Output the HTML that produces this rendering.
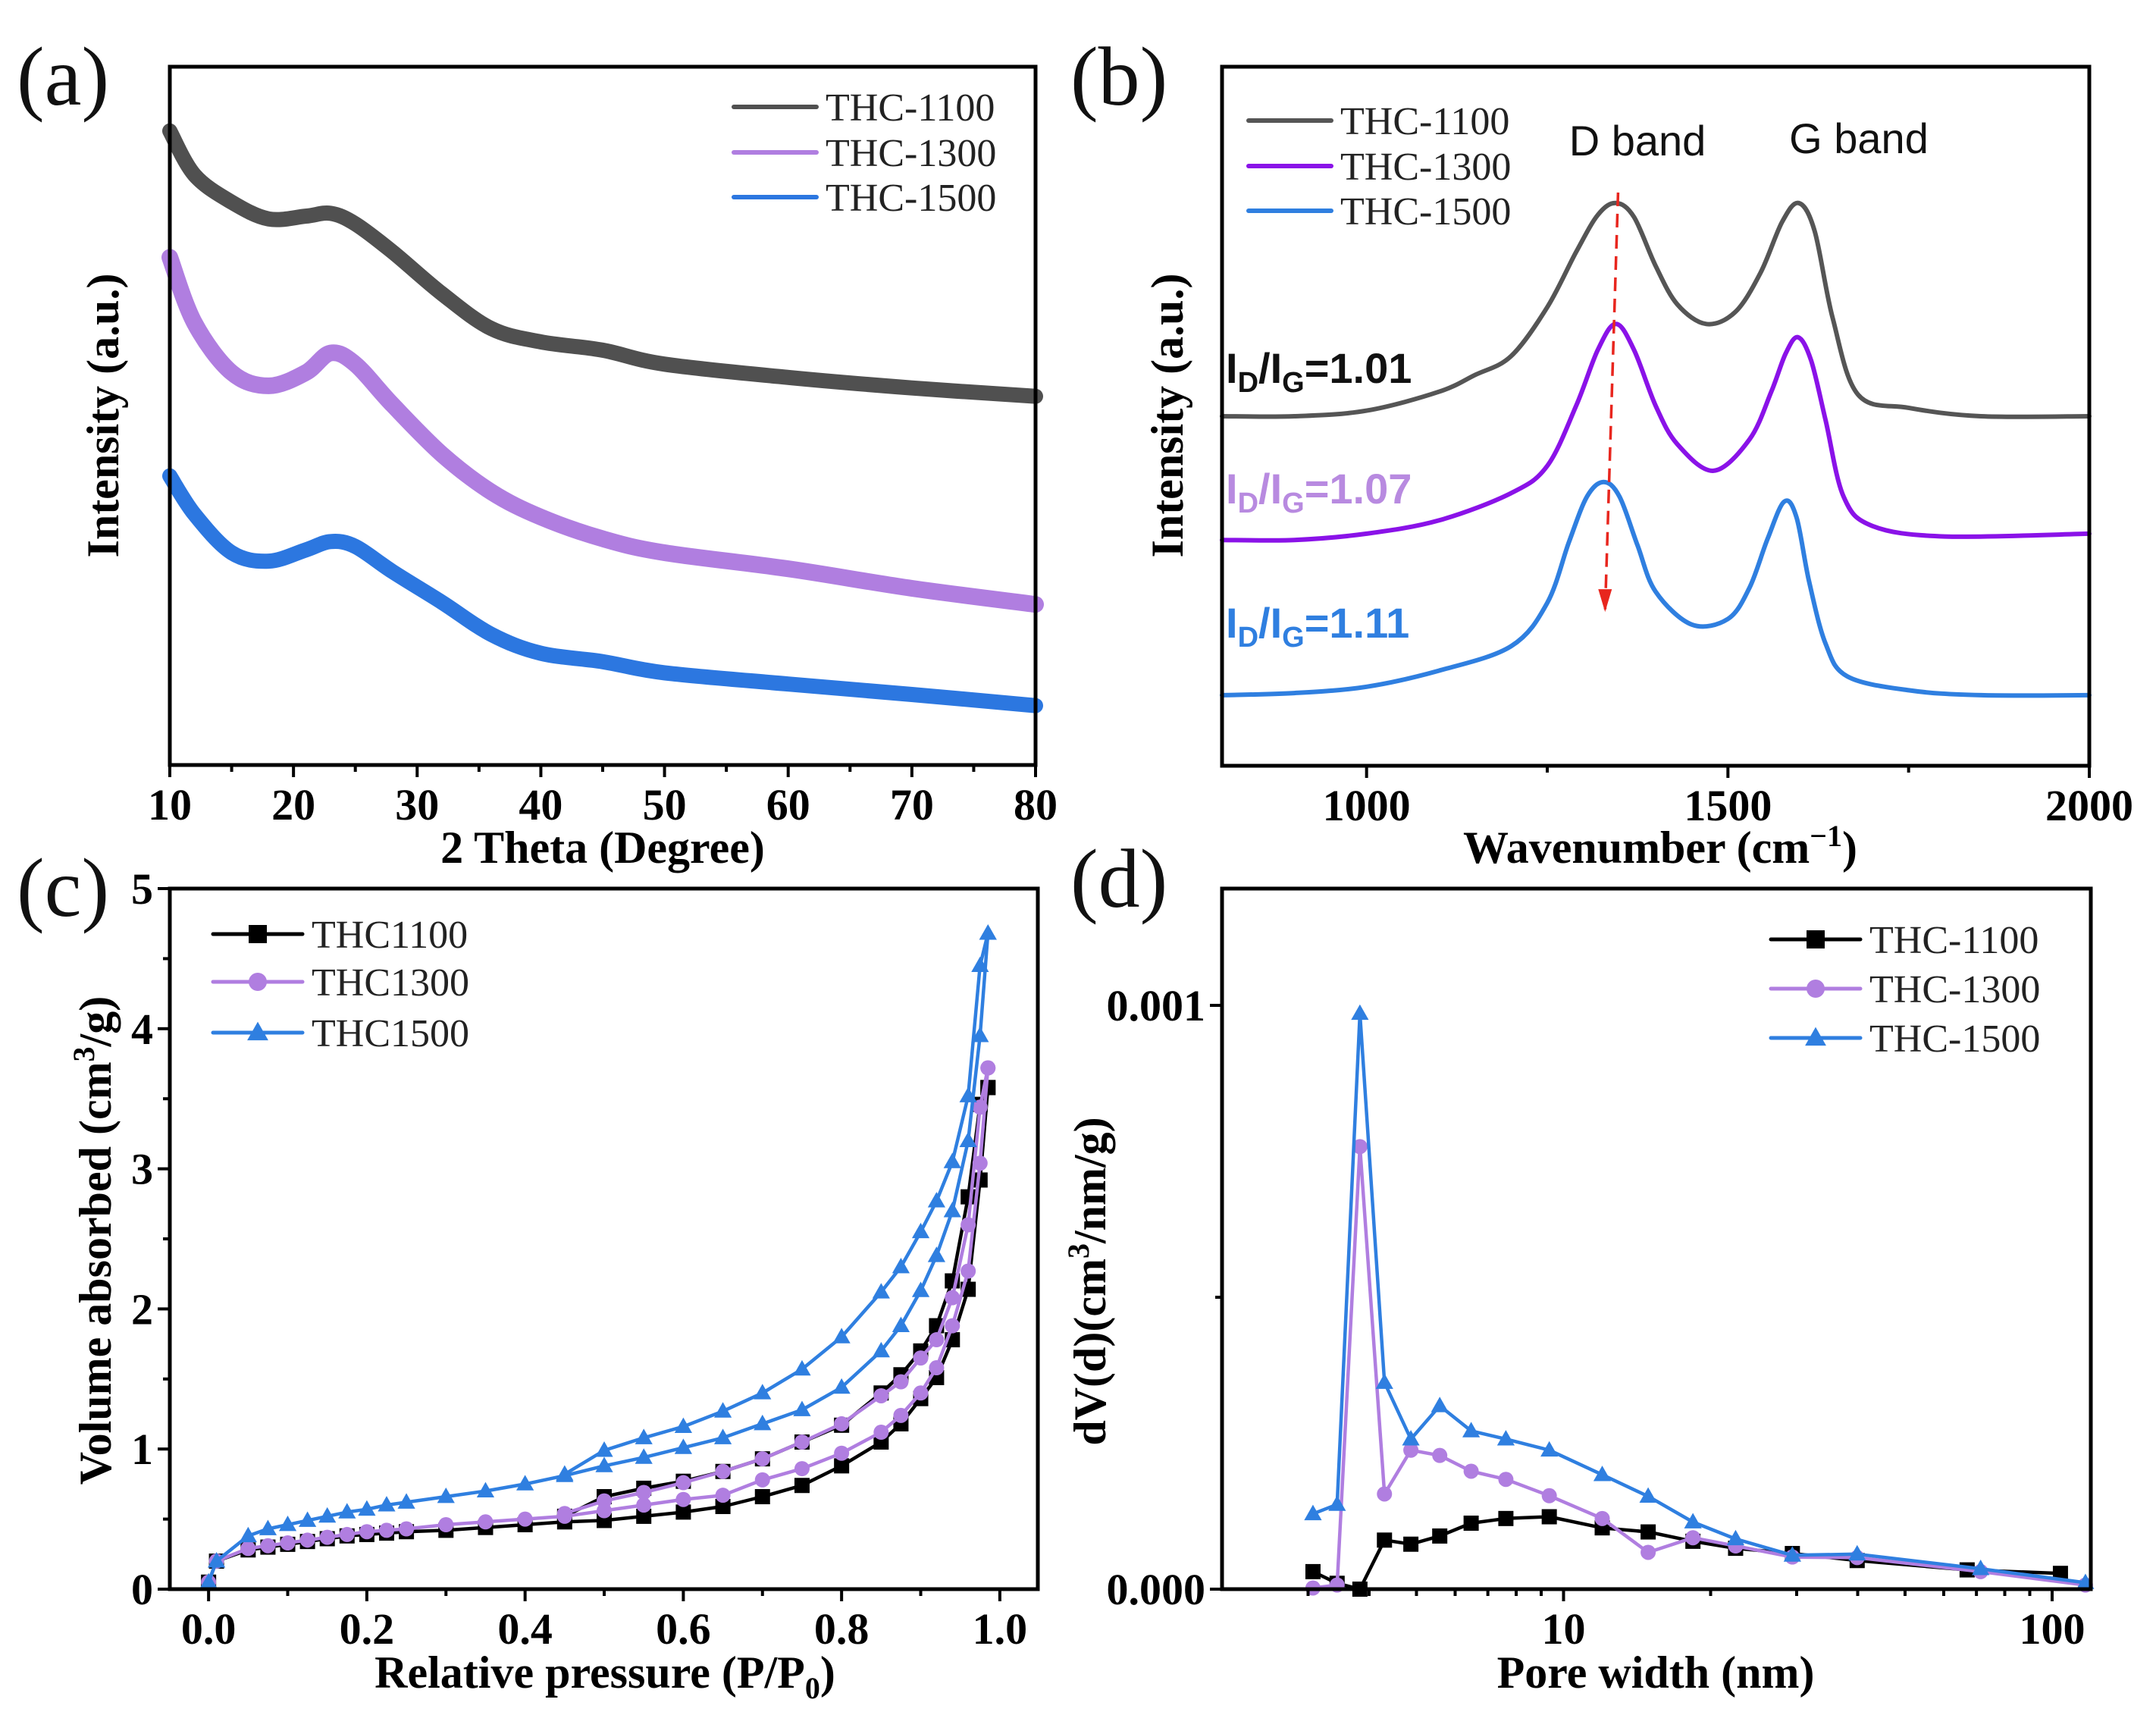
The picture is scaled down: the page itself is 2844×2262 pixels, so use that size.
<!DOCTYPE html>
<html><head><meta charset="utf-8">
<style>
html,body{margin:0;padding:0;background:#fff;}
svg{display:block;}
.tk{font-family:"Liberation Serif",serif;font-weight:bold;font-size:58px;fill:#000;}
.tt{font-family:"Liberation Serif",serif;font-weight:bold;font-size:60px;fill:#000;}
.lg{font-family:"Liberation Serif",serif;font-size:52px;fill:#222;}
.pl{font-family:"Liberation Serif",serif;font-size:110px;fill:#111;}
.ar{font-family:"Liberation Sans",sans-serif;font-size:56px;}
</style></head>
<body>
<svg id="fig" width="2844" height="2262" viewBox="0 0 2844 2262" xmlns="http://www.w3.org/2000/svg">
<text class="pl" x="22" y="138">(a)</text>
<text class="pl" x="1412" y="138">(b)</text>
<text class="pl" x="22" y="1208">(c)</text>
<text class="pl" x="1412" y="1196">(d)</text>

<text class="tt" x="795" y="1138" text-anchor="middle">2 Theta (Degree)</text>
<text class="tt" transform="translate(156,548) rotate(-90)" text-anchor="middle">Intensity (a.u.)</text>
<text class="tt" x="2190" y="1138" text-anchor="middle">Wavenumber (cm<tspan dy="-22" font-size="40">−1</tspan><tspan dy="22">)</tspan></text>
<text class="tt" transform="translate(1560,548) rotate(-90)" text-anchor="middle">Intensity (a.u.)</text>
<text class="tt" x="798" y="2226" text-anchor="middle">Relative pressure (P/P<tspan dy="14" font-size="40">0</tspan><tspan dy="-14">)</tspan></text>
<text class="tt" transform="translate(146,1636) rotate(-90)" text-anchor="middle">Volume absorbed (cm<tspan dy="-22" font-size="40">3</tspan><tspan dy="22">/g)</tspan></text>
<text class="tt" x="2184" y="2226" text-anchor="middle">Pore width (nm)</text>
<text class="tt" transform="translate(1458,1690) rotate(-90)" text-anchor="middle">dV(d)(cm<tspan dy="-22" font-size="40">3</tspan><tspan dy="22">/nm/g)</tspan></text>

<text class="ar" x="2160" y="205" text-anchor="middle" fill="#111">D band</text>
<text class="ar" x="2452" y="202" text-anchor="middle" fill="#111">G band</text>
<text class="ar" font-weight="bold" x="1617" y="505" fill="#111">I<tspan dy="12" font-size="38">D</tspan><tspan dy="-12">/I</tspan><tspan dy="12" font-size="38">G</tspan><tspan dy="-12">=1.01</tspan></text>
<text class="ar" font-weight="bold" x="1617" y="664" fill="#b88ae0">I<tspan dy="12" font-size="38">D</tspan><tspan dy="-12">/I</tspan><tspan dy="12" font-size="38">G</tspan><tspan dy="-12">=1.07</tspan></text>
<text class="ar" font-weight="bold" x="1617" y="841" fill="#2f7fe0">I<tspan dy="12" font-size="38">D</tspan><tspan dy="-12">/I</tspan><tspan dy="12" font-size="38">G</tspan><tspan dy="-12">=1.11</tspan></text>
<g id="layer"></g>
</svg>
<script>
// ---- Panel (a) XRD ----
const xrdX = [10,12,15,18,21,23,25,28,32,36,40,45,50,60,70,80];
const xrd1100 = [90.8,84.5,80.6,78.2,78.6,79.0,77.5,73.5,67.5,62.5,60.6,59.4,57.4,55.5,54.0,52.8];
const xrd1300 = [72.7,63.3,56.2,54.3,56.2,59.0,57.4,51.6,44.5,39.1,35.5,32.4,30.4,28.1,25.3,23.0];
const xrd1500 = [41.4,35.9,30.4,29.2,30.8,32.0,31.3,27.7,23.3,18.7,16.0,14.8,13.2,11.6,10.1,8.5];
const xrdTicks = ["10","20","30","40","50","60","70","80"];
// ---- Panel (b) Raman ----
const ramX1100 = [800,900,1000,1100,1150,1200,1250,1290,1320,1345,1370,1400,1430,1470,1510,1545,1575,1598,1620,1645,1680,1750,1850,2000];
const ram1100 = [50,50,50.8,53.5,55.9,58.6,65.6,73.5,78.8,80.5,78.5,71.5,66,63.2,64.9,70.5,77.8,80.5,76.5,64,53.1,51.2,50,50];
const ramX1300 = [800,900,1000,1100,1200,1250,1290,1320,1345,1370,1400,1430,1480,1530,1560,1580,1597,1615,1635,1660,1700,1800,2000];
const ram1300 = [32.3,32.3,33.2,35.1,39.0,42.9,51.5,59.5,63.2,59.5,51.5,46.0,42.2,46.7,53.5,59.0,61.3,58.0,49.5,38.5,34.3,32.8,33.2];
const ramX1500 = [800,900,1000,1100,1200,1250,1280,1305,1328,1350,1375,1400,1450,1500,1530,1555,1578,1595,1612,1635,1665,1750,1850,2000];
const ram1500 = [10.1,10.4,11.3,13.6,17.1,23.3,32.0,38.5,40.6,38.5,31.5,24.9,20.2,21.0,25.5,32.5,37.8,35.5,26.5,17.5,12.8,10.8,10.1,10.1];
const ramTicks = ["1000","1500","2000"];
// ---- Panel (c) isotherms ----
const isoAdsP = [0,0.01,0.05,0.075,0.1,0.125,0.15,0.175,0.2,0.225,0.25,0.3,0.35,0.4,0.45,0.5,0.55,0.6,0.65,0.7,0.75,0.8,0.85,0.875,0.9,0.92,0.94,0.96,0.975,0.985];
const ads1100 = [0.05,0.2,0.28,0.3,0.32,0.34,0.36,0.38,0.39,0.4,0.41,0.42,0.44,0.46,0.48,0.49,0.52,0.55,0.59,0.66,0.74,0.88,1.05,1.18,1.36,1.51,1.78,2.14,2.92,3.58];
const ads1300 = [0.05,0.2,0.29,0.31,0.33,0.35,0.37,0.39,0.41,0.42,0.43,0.46,0.48,0.5,0.52,0.56,0.6,0.64,0.67,0.78,0.86,0.97,1.12,1.24,1.4,1.58,1.88,2.27,3.04,3.72];
const ads1500 = [0.05,0.2,0.38,0.43,0.46,0.49,0.52,0.55,0.57,0.6,0.62,0.66,0.7,0.75,0.81,0.88,0.94,1.01,1.08,1.18,1.28,1.44,1.7,1.88,2.13,2.38,2.7,3.2,3.95,4.68];
const isoDesP = [0.985,0.975,0.96,0.94,0.92,0.9,0.875,0.85,0.8,0.75,0.7,0.65,0.6,0.55,0.5,0.45];
const des1100 = [3.58,3.46,2.8,2.2,1.88,1.7,1.53,1.4,1.17,1.05,0.93,0.84,0.77,0.72,0.66,0.52];
const des1300 = [3.72,3.44,2.6,2.08,1.78,1.65,1.48,1.38,1.18,1.05,0.93,0.84,0.76,0.69,0.63,0.54];
const des1500 = [4.68,4.45,3.52,3.05,2.77,2.55,2.3,2.12,1.8,1.57,1.4,1.27,1.16,1.08,0.99,0.82];
const isoXTicks = ["0.0","0.2","0.4","0.6","0.8","1.0"];
const isoYTicks = ["0","1","2","3","4","5"];
// ---- Panel (d) pore size ----
const poreX1100 = [3.07,3.44,3.83,4.3,4.87,5.58,6.47,7.62,9.35,12,14.9,18.4,22.5,29.4,39.9,67,104];
const pore1100 = [0.00003,0.00001,0,0.000084,0.000077,0.000091,0.000113,0.000121,0.000124,0.000105,0.000098,0.000082,0.00007,0.000061,0.000049,0.000033,0.000027];
const poreX = [3.07,3.44,3.83,4.3,4.87,5.58,6.47,7.62,9.35,12,14.9,18.4,22.5,29.4,39.9,71.4,117];
const pore1300 = [0.000002,0.000007,0.000758,0.000163,0.000238,0.000229,0.000202,0.000188,0.00016,0.000121,0.000063,0.000088,0.000074,0.000055,0.000054,0.00003,0.000007];
const pore1500 = [0.000129,0.000145,0.000986,0.000354,0.000257,0.000314,0.000271,0.000257,0.000238,0.000196,0.000159,0.000115,0.000086,0.000058,0.00006,0.000035,0.000011];
const poreYTicks = ["0.000","0.001"];
const poreXTicks = ["10","100"];

const NS = "http://www.w3.org/2000/svg";
const layer = document.getElementById('layer');
function mk(tag, attrs, parent){
  const e = document.createElementNS(NS, tag);
  for (const k in attrs) e.setAttribute(k, attrs[k]);
  (parent||layer).appendChild(e);
  return e;
}
function lin(d0,d1,p0,p1){ return v => p0 + (v-d0)/(d1-d0)*(p1-p0); }
function logs(d0,d1,p0,p1){ return v => p0 + (Math.log10(v)-Math.log10(d0))/(Math.log10(d1)-Math.log10(d0))*(p1-p0); }
function pathD(xs, ys, sx, sy){ return xs.map((x,i)=>(i?'L':'M')+sx(x).toFixed(1)+' '+sy(ys[i]).toFixed(1)).join(' '); }
function smoothD(xs, ys, sx, sy){
  const P = xs.map((x,i)=>[sx(x), sy(ys[i])]);
  let d = 'M'+P[0][0].toFixed(1)+' '+P[0][1].toFixed(1);
  for(let i=0;i<P.length-1;i++){
    const p0=P[Math.max(0,i-1)], p1=P[i], p2=P[i+1], p3=P[Math.min(P.length-1,i+2)];
    const c1=[p1[0]+(p2[0]-p0[0])/6, p1[1]+(p2[1]-p0[1])/6];
    const c2=[p2[0]-(p3[0]-p1[0])/6, p2[1]-(p3[1]-p1[1])/6];
    d += ` C${c1[0].toFixed(1)} ${c1[1].toFixed(1)} ${c2[0].toFixed(1)} ${c2[1].toFixed(1)} ${p2[0].toFixed(1)} ${p2[1].toFixed(1)}`;
  }
  return d;
}

function frame(L,T,R,B,name){
  const r = mk('rect',{x:L,y:T,width:R-L,height:B-T,fill:'none',stroke:'#000','stroke-width':5});
  
  
}
function xTick(x,B,major,label,name){
  const t = mk('line',{x1:x,x2:x,y1:B,y2:B+(major?16:9),stroke:'#000','stroke-width':4});
  
  
  if(label!==null){
    const tx = mk('text',{x:x,y:B+72,'text-anchor':'middle',class:'tk'});
    tx.textContent = label;
    
    
  }
}
function yTick(y,L,major,label,name){
  const t = mk('line',{x1:L,x2:L-(major?16:9),y1:y,y2:y,stroke:'#000','stroke-width':4});
  
  
  if(label!==null){
    const tx = mk('text',{x:L-22,y:y+20,'text-anchor':'end',class:'tk'});
    tx.textContent = label;
    
    
  }
}
function line(d,color,w,name){
  const p = mk('path',{d:d,fill:'none',stroke:color,'stroke-width':w,'stroke-linejoin':'round','stroke-linecap':'round'});
  
  
  return p;
}
function marker(type,x,y,color,s,name){
  let m;
  if(type==='sq') m = mk('rect',{x:x-s/2,y:y-s/2,width:s,height:s,fill:color});
  else if(type==='ci') m = mk('circle',{cx:x,cy:y,r:s/2,fill:color});
  else m = mk('polygon',{points:`${x},${y-s*0.6} ${x-s*0.58},${y+s*0.42} ${x+s*0.58},${y+s*0.42}`,fill:color});
  
  
}
function legendRow(x1,x2,y,color,text,w,mtype,name){
  line(`M${x1} ${y} L${x2} ${y}`,color,w,name+'-swatch');
  if(mtype) marker(mtype,(x1+x2)/2,y,color,24,name+'-marker');
  const t = mk('text',{x:x2+12,y:y+18,class:'lg'});
  t.textContent = text;
  
  
}

// Panel a
(function(){
  const L=224,R=1366,T=88,B=1009;
  const sx=lin(10,80,L,R), sy=lin(0,100,B,T);
  const cols={c1:'#505050',c2:'#b07ee0',c3:'#2c77e0'};
  line(smoothD(xrdX,xrd1100,sx,sy),cols.c1,20,'xrd-line-1100');
  line(smoothD(xrdX,xrd1300,sx,sy),cols.c2,22,'xrd-line-1300');
  line(smoothD(xrdX,xrd1500,sx,sy),cols.c3,20,'xrd-line-1500');
  frame(L,T,R,B,'plot-frame-a');
  xrdTicks.forEach(l=>xTick(sx(+l),B,true,l,'x-a'));
  for(let v=15;v<80;v+=10) xTick(sx(v),B,false,null,'x-a-minor');
  legendRow(968,1077,141,cols.c1,'THC-1100',6,null,'legend-a-1100');
  legendRow(968,1077,201,cols.c2,'THC-1300',6,null,'legend-a-1300');
  legendRow(968,1077,260,cols.c3,'THC-1500',6,null,'legend-a-1500');
})();

// Panel b
(function(){
  const L=1612,R=2756,T=88,B=1010;
  const sx=lin(800,2000,L,R), sy=lin(0,100,B,T);
  line(smoothD(ramX1100,ram1100,sx,sy),'#555555',6,'raman-line-1100');
  line(smoothD(ramX1300,ram1300,sx,sy),'#8a12e8',6,'raman-line-1300');
  line(smoothD(ramX1500,ram1500,sx,sy),'#2f7fe0',6,'raman-line-1500');
  const a = mk('line',{x1:sx(1348),y1:sy(82),x2:sx(1330),y2:sy(22),stroke:'#e8261e','stroke-width':3.5,'stroke-dasharray':'18 10'});
  
  
  const ah = mk('polygon',{points:`${sx(1330)-9},${sy(22)-30} ${sx(1330)+9},${sy(22)-30} ${sx(1330)},${sy(22)}`,fill:'#e8261e'});
  
  
  frame(L,T,R,B,'plot-frame-b');
  ramTicks.forEach(l=>xTick(sx(+l),B,true,l,'x-b'));
  [1250,1750].forEach(v=>xTick(sx(v),B,false,null,'x-b-minor'));
  legendRow(1647,1756,159,'#555555','THC-1100',6,null,'legend-b-1100');
  legendRow(1647,1756,219,'#8a12e8','THC-1300',6,null,'legend-b-1300');
  legendRow(1647,1756,278,'#2f7fe0','THC-1500',6,null,'legend-b-1500');
})();

// Panel c
(function(){
  const L=224,R=1369,T=1172,B=2096;
  const sx=lin(-0.049,1.048,L,R), sy=lin(0,5,B,T);
  const sets=[
    [ads1100,des1100,'#000000','sq','1100'],
    [ads1300,des1300,'#b07ee0','ci','1300'],
    [ads1500,des1500,'#2f7fe0','tr','1500']];
  sets.forEach(s=>{
    line(pathD(isoAdsP,s[0],sx,sy),s[2],4.5,'iso-ads-line-'+s[4]);
    line(pathD(isoDesP,s[1],sx,sy),s[2],4.5,'iso-des-line-'+s[4]);
    isoAdsP.forEach((p,i)=>marker(s[3],sx(p),sy(s[0][i]),s[2],20,'iso-ads-point-'+s[4]));
    isoDesP.forEach((p,i)=>marker(s[3],sx(p),sy(s[1][i]),s[2],20,'iso-des-point-'+s[4]));
  });
  frame(L,T,R,B,'plot-frame-c');
  isoXTicks.forEach(l=>xTick(sx(+l),B,true,l,'x-c'));
  for(let v=0.1;v<1;v+=0.2) xTick(sx(v),B,false,null,'x-c-minor');
  isoYTicks.forEach(l=>yTick(sy(+l),L,true,l,'y-c'));
  for(let v=0.5;v<5;v+=1) yTick(sy(v),L,false,null,'y-c-minor');
  legendRow(281,399,1232,'#000000','THC1100',5,'sq','legend-c-1100');
  legendRow(281,399,1295,'#b07ee0','THC1300',5,'ci','legend-c-1300');
  legendRow(281,399,1362,'#2f7fe0','THC1500',5,'tr','legend-c-1500');
})();

// Panel d
(function(){
  const L=1612,R=2758,T=1172,B=2096;
  const sx=logs(2,120,L,R), sy=lin(0,0.0012,B,T);
  const sets=[
    [poreX1100,pore1100,'#000000','sq','1100'],
    [poreX,pore1300,'#b07ee0','ci','1300'],
    [poreX,pore1500,'#2f7fe0','tr','1500']];
  sets.forEach(s=>{
    line(pathD(s[0],s[1],sx,sy),s[2],4.5,'pore-line-'+s[4]);
    s[0].forEach((x,i)=>marker(s[3],sx(x),sy(s[1][i]),s[2],20,'pore-point-'+s[4]));
  });
  frame(L,T,R,B,'plot-frame-d');
  poreXTicks.forEach(l=>xTick(sx(+l),B,true,l,'x-d'));
  [3,4,5,6,7,8,9,20,30,40,50,60,70,80,90].forEach(v=>xTick(sx(v),B,false,null,'x-d-minor'));
  poreYTicks.forEach(l=>yTick(sy(+l),L,true,l,'y-d'));
  yTick(sy(0.0005),L,false,null,'y-d-minor');
  legendRow(2336,2454,1239,'#000000','THC-1100',5,'sq','legend-d-1100');
  legendRow(2336,2454,1304,'#b07ee0','THC-1300',5,'ci','legend-d-1300');
  legendRow(2336,2454,1369,'#2f7fe0','THC-1500',5,'tr','legend-d-1500');
})();
</script>
</body></html>
